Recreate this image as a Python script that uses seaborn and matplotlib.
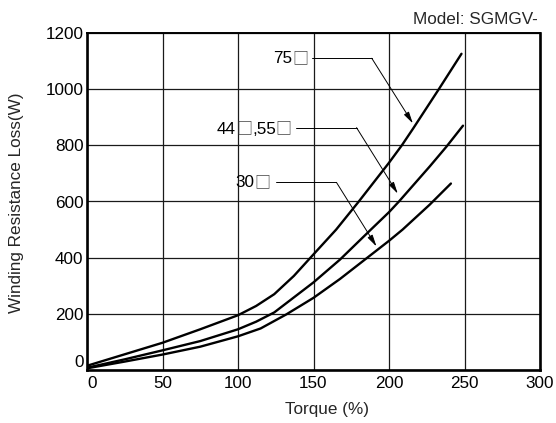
import matplotlib
matplotlib.use("Agg")
import matplotlib.pyplot as plt
from matplotlib.offsetbox import TextArea, HPacker, AnnotationBbox
import seaborn as sns
import pandas as pd

# ---- data ----
torque_75 = [0, 25, 50, 75, 100, 112, 124, 137, 148, 165, 180, 200, 208.5, 216, 233, 248]
loss_75 = [15, 56, 97, 145, 195, 228, 270, 335, 400, 500, 600, 738, 800, 860, 1000, 1126]

torque_44 = [0, 25, 50, 75, 100, 112, 124, 150, 167.5, 188, 200, 206.6, 227, 238, 249]
loss_44 = [8, 38, 70, 103, 145, 172, 205, 312, 393, 500, 562, 600, 725, 795, 870]

torque_30 = [0, 25, 50, 75, 100, 115, 132, 150, 167.5, 200, 209, 227, 241]
loss_30 = [6, 30, 55, 83, 120, 148, 198, 257, 324, 460, 500, 589, 664]

series_names = ["75□", "44□,55□", "30□"]

x_ticks = [0, 50, 100, 150, 200, 250, 300]
y_ticks = [0, 200, 400, 600, 800, 1000, 1200]

# annotation: label pieces, text anchor (right end), line start, corner, arrow tip
ann_pieces = [["75", "□"], ["44", "□", ",55", "□"], ["30", "□"]]
ann_text_xy = [(146.4, 1108), (135.6, 858), (121.3, 668)]
ann_line_start = [(149.0, 1110), (138.5, 863), (125.3, 668)]
ann_corner = [(188.6, 1110), (178.5, 863), (165.2, 668)]
ann_tip = [(215.8, 878), (205.8, 628), (191.7, 440)]

x_label = "Torque (%)"
y_label = "Winding Resistance Loss(W)"
model_text = "Model: SGMGV-"

# ---- build table ----
frames = []
for name, xs, ys in zip(series_names, [torque_75, torque_44, torque_30], [loss_75, loss_44, loss_30]):
    frames.append(pd.DataFrame({"torque": xs, "loss": ys, "model": name}))
df = pd.concat(frames, ignore_index=True)

sns.set_style("white")
FONT = ["Liberation Sans", "DejaVu Sans"]
plt.rcParams["font.family"] = FONT
FS = 12.3

fig = plt.figure(figsize=(5.56, 4.23), dpi=100)
ax = fig.add_axes([87 / 556, 1 - 370 / 423, (540 - 87) / 556, (370 - 33) / 423])

sns.lineplot(data=df, x="torque", y="loss", hue="model", units="model", estimator=None,
             palette={n: "black" for n in series_names}, legend=False, lw=1.7, ax=ax, zorder=3)

ax.set_xlim(0, 300)
ax.set_ylim(0, 1200)
ax.set_xticks(x_ticks)
ax.set_yticks(y_ticks)
ax.set_xticklabels([str(v) for v in x_ticks])
ax.set_yticklabels([str(v) for v in y_ticks])
ax.tick_params(axis="both", length=0, labelsize=FS, colors="black")
ax.tick_params(axis="x", pad=4)
ax.tick_params(axis="y", pad=2.5)
ax.get_xticklabels()[0].set_horizontalalignment("left")
ax.get_yticklabels()[0].set_verticalalignment("bottom")

ax.grid(True, color="#1a1a1a", lw=0.9)
ax.set_axisbelow(True)
for side, sp in ax.spines.items():
    sp.set_visible(True)
    sp.set_color("black")
    sp.set_linewidth(1.4 if side == "top" else 1.9)
    sp.set_zorder(4)

ax.set_xlabel(x_label, fontsize=FS)
ax.set_ylabel(y_label, fontsize=FS)
ax.xaxis.label.set_va("center")
ax.xaxis.set_label_coords((327 - 87) / 453, (370 - 409) / 337)
ax.yaxis.label.set_va("center")
ax.yaxis.label.set_rotation_mode("default")
ax.yaxis.set_label_coords((17 - 87) / 453, 0.497)

for pieces, txy, ls, cn, tp in zip(ann_pieces, ann_text_xy, ann_line_start, ann_corner, ann_tip):
    areas = []
    for p in pieces:
        if p == "□":
            tprops = dict(fontsize=11.5, family=["Noto Sans CJK JP"], color="#444444")
        else:
            tprops = dict(fontsize=FS, family=FONT, color="black")
        areas.append(TextArea(p, textprops=tprops))
    pack = HPacker(children=areas, sep=0, pad=0, align="baseline")
    ab = AnnotationBbox(pack, txy, xycoords="data", box_alignment=(1, 0.5),
                        frameon=False, pad=0, zorder=5)
    ax.add_artist(ab)
    ax.plot([ls[0], cn[0]], [ls[1], cn[1]], color="black", lw=0.7, zorder=5)
    ax.annotate("", xy=tp, xytext=cn,
                arrowprops=dict(arrowstyle="-|>,head_length=0.7,head_width=0.17",
                                color="black", lw=0.7, shrinkA=0, shrinkB=0), zorder=5)

fig.text(538 / 556, 1 - 20 / 423, model_text, ha="right", va="center", fontsize=FS)

fig.savefig("out.png", dpi=100)
